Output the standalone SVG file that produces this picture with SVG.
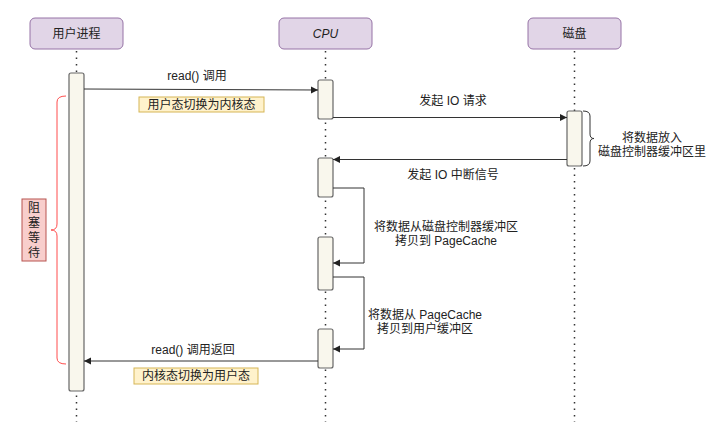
<svg xmlns="http://www.w3.org/2000/svg" width="712" height="429" viewBox="0 0 712 429">
<defs>
<style>
text{font-family:"Liberation Sans","Noto Sans CJK SC",sans-serif;font-size:12px;fill:#222;text-anchor:middle;dominant-baseline:central}
.hdr{fill:#e1d5e7;stroke:#9673a6;stroke-width:1}
.life{stroke:#333;stroke-width:1.5;stroke-dasharray:1.5 5;fill:none}
.act{fill:#f9f7ed;stroke:#666;stroke-width:1.2}
.msg{stroke:#333;stroke-width:1;fill:none}
.note{fill:#fff2cc;stroke:#d6b656;stroke-width:1}
</style>
<marker id="arr" markerWidth="8" markerHeight="8" refX="7" refY="4" orient="auto" markerUnits="userSpaceOnUse">
<path d="M0,0.5 L7,4 L0,7.5 Z" fill="#222"/>
</marker>
</defs>
<rect width="712" height="429" fill="#fff"/>
<g id="lifelines">
<line class="life" x1="76.5" y1="51" x2="76.5" y2="422"/>
<line class="life" x1="325.5" y1="51" x2="325.5" y2="422"/>
<line class="life" x1="574.5" y1="51" x2="574.5" y2="422"/>
</g>
<g id="user"><rect class="hdr" x="30" y="18" width="93" height="31" rx="5"/><text x="76.5" y="34">用户进程</text></g>
<g id="cpu"><rect class="hdr" x="279" y="18" width="93" height="31" rx="5"/><text x="325.5" y="34" font-style="italic">CPU</text></g>
<g id="disk"><rect class="hdr" x="528" y="18" width="93" height="31" rx="5"/><text x="574.5" y="34">磁盘</text></g>
<g id="user-act"><rect class="act" x="69" y="73" width="15" height="318" rx="2"/></g>
<g id="cpu-act1"><rect class="act" x="318" y="80" width="15" height="39" rx="2"/></g>
<g id="disk-act"><rect class="act" x="567" y="111" width="15" height="55" rx="2"/></g>
<g id="cpu-act2"><rect class="act" x="318" y="158" width="15" height="39" rx="2"/></g>
<g id="cpu-act3"><rect class="act" x="318" y="237" width="15" height="53" rx="2"/></g>
<g id="cpu-act4"><rect class="act" x="318" y="329" width="15" height="39" rx="2"/></g>
<g id="connectors">
<path class="msg" d="M84,89 L318,90" marker-end="url(#arr)"/>
<path class="msg" d="M333,117.5 L567,117.5" marker-end="url(#arr)"/>
<path class="msg" d="M567,159.5 L333,159.5" marker-end="url(#arr)"/>
<path class="msg" d="M333,188 L364,188 L364,263 L333,263" marker-end="url(#arr)"/>
<path class="msg" d="M333,277 L364,277 L364,349 L333,349" marker-end="url(#arr)"/>
<path class="msg" d="M318,361 L84,361" marker-end="url(#arr)"/>
</g>
<g id="labels">
<text x="197" y="76">read() 调用</text>
<rect class="note" x="139" y="97" width="125" height="15"/>
<text x="201.5" y="104.5">用户态切换为内核态</text>
<text x="453" y="101">发起 IO 请求</text>
<text x="453" y="175">发起 IO 中断信号</text>
<text x="446" y="227">将数据从磁盘控制器缓冲区<tspan x="446" dy="14">拷贝到 PageCache</tspan></text>
<text x="425" y="315">将数据从 PageCache<tspan x="425" dy="14">拷贝到用户缓冲区</tspan></text>
<text x="193" y="350">read() 调用返回</text>
<rect class="note" x="134" y="368" width="124" height="16"/>
<text x="196" y="376">内核态切换为用户态</text>
</g>
<g id="disk-brace">
<path d="M583,111 Q590,111 590,116 L590,134 Q590,138.5 594,138.5 Q590,138.5 590,143 L590,161 Q590,166 583,166" fill="none" stroke="#333" stroke-width="1"/>
<text x="652" y="138">将数据放入<tspan x="652" dy="14">磁盘控制器缓冲区里</tspan></text>
</g>
<g id="block-brace">
<path d="M66,96 Q57,96 57,102 L57,224 Q57,230 51,230 Q57,230 57,236 L57,358 Q57,364 66,364" fill="none" stroke="#ff4d4d" stroke-width="1"/>
<rect x="22" y="199" width="24" height="62" fill="#f8cecc" stroke="#b85450" stroke-width="1"/>
<text x="34" y="208">阻<tspan x="34" dy="15">塞</tspan><tspan x="34" dy="15">等</tspan><tspan x="34" dy="15">待</tspan></text>
</g>
</svg>
